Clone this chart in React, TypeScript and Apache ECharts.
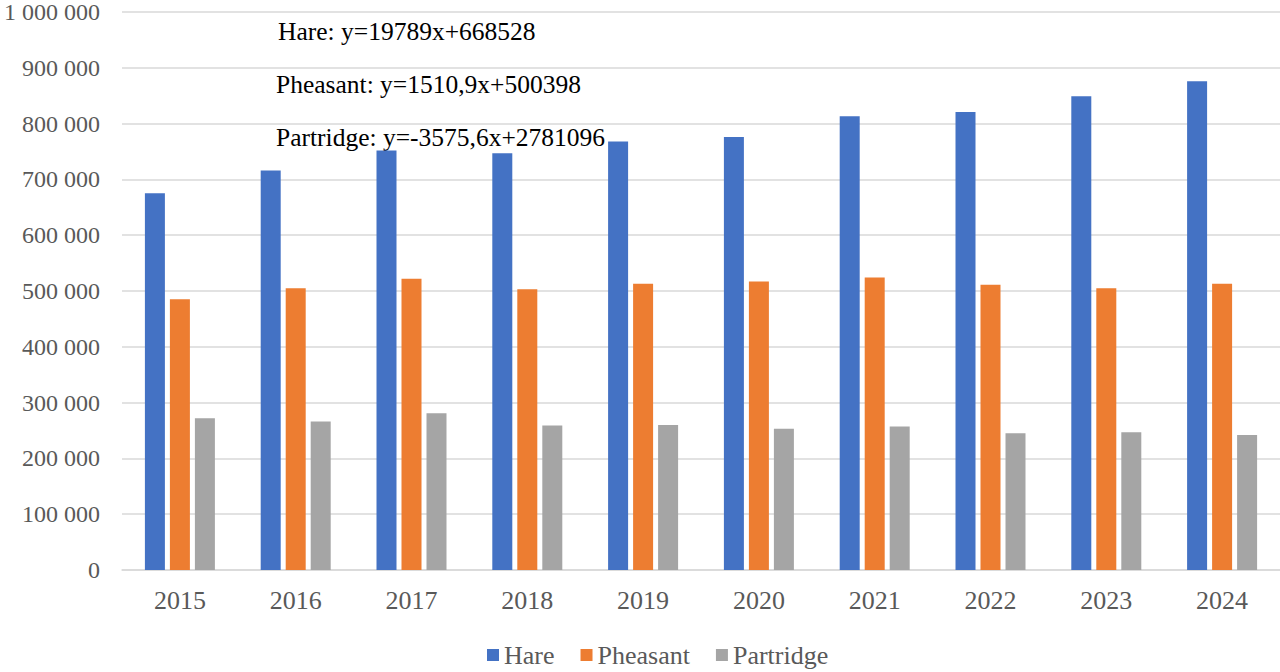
import React, { useEffect, useRef } from "react";
import * as echarts from "echarts";

const years = ["2015", "2016", "2017", "2018", "2019", "2020", "2021", "2022", "2023", "2024"];
const hare = [675000, 716000, 752000, 747000, 768000, 776000, 813000, 821000, 849000, 876000];
const pheasant = [485000, 505000, 522000, 503000, 513000, 517000, 524000, 511000, 505000, 513000];
const partridge = [272000, 266000, 281000, 259000, 260000, 253000, 257000, 245000, 247000, 242000];
const equations = [
  "Hare: y=19789x+668528",
  "Pheasant: y=1510,9x+500398",
  "Partridge: y=-3575,6x+2781096",
];

const FONT = "Liberation Serif";

function fmt(v: number): string {
  return String(v).replace(/\B(?=(\d{3})+(?!\d))/g, " ");
}

export default function App() {
  const ref = useRef<HTMLDivElement>(null);
  useEffect(() => {
    document.body.style.margin = "0";
    const chart = echarts.init(ref.current!, undefined, { renderer: "svg" });
    chart.setOption({
      animation: false,
      backgroundColor: "#ffffff",
      textStyle: { fontFamily: FONT },
      grid: { left: 122, right: 0, top: 12, bottom: 102 },
      legend: {
        top: 642,
        left: 487,
        padding: 0,
        itemWidth: 12,
        itemHeight: 12,
        itemGap: 26,
        icon: "rect",
        textStyle: { fontFamily: FONT, fontSize: 26, color: "#595959" },
        data: ["Hare", "Pheasant", "Partridge"],
      },
      xAxis: {
        type: "category",
        data: years,
        axisLine: { lineStyle: { color: "#d9d9d9", width: 1.5 } },
        axisTick: { show: false },
        axisLabel: { fontFamily: FONT, fontSize: 26, color: "#595959", margin: 17 },
      },
      yAxis: {
        type: "value",
        min: 0,
        max: 1000000,
        interval: 100000,
        axisLine: { show: false },
        axisTick: { show: false },
        splitLine: { lineStyle: { color: "#d9d9d9", width: 1.5 } },
        axisLabel: {
          fontFamily: FONT,
          fontSize: 24,
          color: "#595959",
          margin: 22,
          formatter: (v: number) => fmt(v),
        },
      },
      graphic: equations.map((t, i) => ({
        type: "text",
        left: i === 0 ? 278 : 276,
        top: 18 + i * 53,
        style: { text: t, fontFamily: FONT, fontSize: 25.5, fill: "#000000" },
      })),
      series: [
        { name: "Hare", type: "bar", data: hare, barWidth: 20, barGap: "25%", itemStyle: { color: "#4472C4" } },
        { name: "Pheasant", type: "bar", data: pheasant, barWidth: 20, barGap: "25%", itemStyle: { color: "#ED7D31" } },
        { name: "Partridge", type: "bar", data: partridge, barWidth: 20, barGap: "25%", itemStyle: { color: "#A5A5A5" } },
      ],
    });
    return () => chart.dispose();
  }, []);
  return <div ref={ref} style={{ width: 1280, height: 672 }} />;
}
